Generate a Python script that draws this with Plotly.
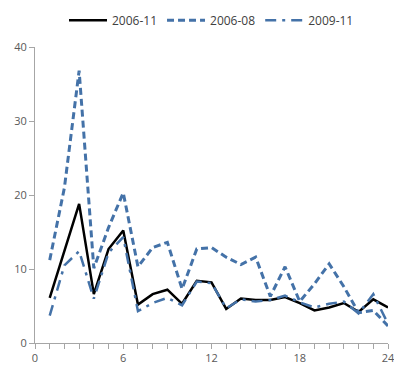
import plotly.graph_objects as go

months = list(range(1, 25))
s_2006_11 = [6.1, 12.4, 18.8, 6.6, 12.7, 15.2, 5.2, 6.6, 7.2, 5.3, 8.4, 8.2,
             4.6, 6.0, 5.8, 5.8, 6.2, 5.4, 4.4, 4.8, 5.4, 4.2, 5.9, 4.8]
s_2006_08 = [11.2, 21.0, 36.8, 10.1, 15.6, 20.3, 10.3, 12.9, 13.6, 7.3, 12.7, 12.9,
             11.6, 10.6, 11.6, 6.3, 10.3, 5.6, 8.0, 10.7, 7.6, 4.1, 4.4, 2.3]
s_2009_11 = [3.7, 10.5, 12.4, 6.0, 12.2, 14.3, 4.3, 5.4, 6.1, 5.1, 8.3, 8.1,
             4.7, 5.9, 5.6, 5.8, 6.4, 5.5, 4.8, 5.3, 5.6, 4.0, 6.6, 2.6]

blue = "#4472A8"
axis_col = "#A6A6A6"
font_col = "#595959"

fig = go.Figure()
fig.add_trace(go.Scatter(x=months, y=s_2006_11, name="2006-11", mode="lines",
                         line=dict(color="black", width=2.5)))
fig.add_trace(go.Scatter(x=months, y=s_2006_08, name="2006-08", mode="lines",
                         line=dict(color=blue, width=3, dash="7px,4px")))
fig.add_trace(go.Scatter(x=months, y=s_2009_11, name="2009-11", mode="lines",
                         line=dict(color=blue, width=2.5, dash="11px,6px,3px,6px")))

fig.update_xaxes(
    range=[0, 24], tickvals=[0, 6, 12, 18, 24], showgrid=False, zeroline=False,
    showline=True, linecolor=axis_col, linewidth=1, automargin=False,
    ticks="outside", ticklen=5, tickcolor=axis_col,
    minor=dict(tickvals=months, ticks="outside", ticklen=5, tickcolor=axis_col),
    tickfont=dict(size=11, color=font_col, family="Open Sans"),
    ticklabeloverflow="allow",
)
fig.update_yaxes(
    range=[0, 40], dtick=10, showgrid=False, zeroline=False,
    showline=True, linecolor=axis_col, linewidth=1, automargin=False,
    ticks="outside", ticklen=5, tickcolor=axis_col,
    tickfont=dict(size=11, color=font_col, family="Open Sans"),
)
fig.update_layout(
    width=394, height=365,
    margin=dict(l=35, r=6, t=43, b=22),
    plot_bgcolor="white", paper_bgcolor="white",
    legend=dict(orientation="h", x=0.5, xanchor="center", y=1.09, yanchor="middle",
                font=dict(size=12, color="#404040", family="Open Sans"),
                itemwidth=38, tracegroupgap=0),
)
# drop the default page margin so the chart sits at the window's corner
fig.write_html("out.html", config={"displayModeBar": False},
               post_script="document.body.style.margin='0';")
